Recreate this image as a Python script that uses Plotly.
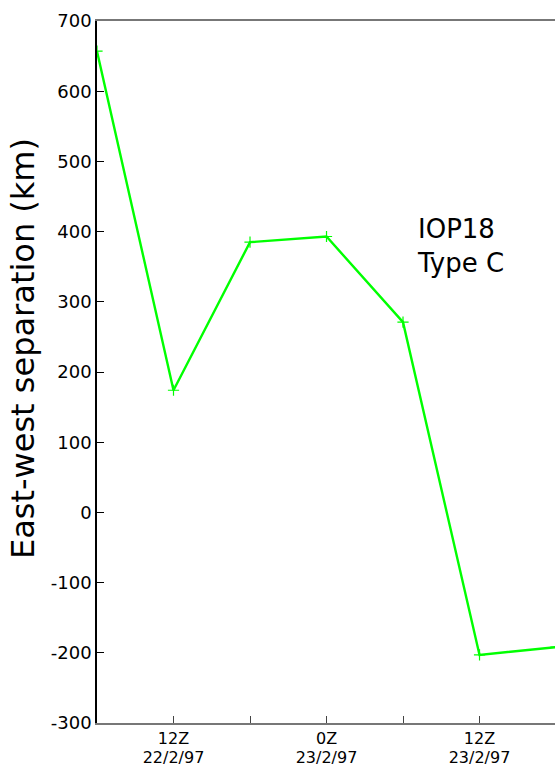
import plotly.graph_objects as go

# Hours since 0Z 22/2/97
hours = [6, 12, 18, 24, 30, 36, 42]
separation_km = [657, 174, 385, 393, 271, -203, -192]

major_tick_hours = [12, 24, 36]
major_tick_times = ["12Z", "0Z", "12Z"]
major_tick_dates = ["22/2/97", "23/2/97", "23/2/97"]
minor_tick_hours = [18, 30]

y_ticks = [-300, -200, -100, 0, 100, 200, 300, 400, 500, 600, 700]
y_tick_labels = [str(v) for v in y_ticks]

FONT = "DejaVu Sans"
X_RANGE = [6, 41.92]

fig = go.Figure()
fig.add_trace(go.Scatter(
    x=hours, y=separation_km,
    mode="lines+markers",
    line=dict(color="#00ff00", width=2.4),
    marker=dict(symbol="cross-thin", size=8, line=dict(color="#00ff00", width=1.2)),
    showlegend=False,
))
# invisible trace to bind the second (date-label) x axis
fig.add_trace(go.Scatter(x=[], y=[], xaxis="x2", yaxis="y", showlegend=False))

fig.update_layout(
    width=555, height=767,
    margin=dict(l=97, r=0, t=21, b=44),
    paper_bgcolor="white", plot_bgcolor="white",
    font=dict(family=FONT, color="black"),
    xaxis=dict(
        range=X_RANGE,
        tickvals=major_tick_hours, ticktext=major_tick_times,
        ticks="inside", ticklen=7, tickwidth=1, tickcolor="#444",
        showline=True, linecolor="#777", linewidth=1.5, mirror=True,
        showgrid=False, zeroline=False,
        ticklabelstandoff=0,
        tickfont=dict(family=FONT, size=16, color="black"),
        minor=dict(tickvals=minor_tick_hours, ticks="inside", ticklen=7, tickcolor="#444", showgrid=False),
    ),
    xaxis2=dict(
        range=X_RANGE, overlaying="x", anchor="y", side="bottom",
        tickvals=major_tick_hours, ticktext=major_tick_dates,
        ticks="", showline=False, showgrid=False, zeroline=False,
        ticklabelstandoff=23,
        tickfont=dict(family=FONT, size=16, color="black"),
    ),
    yaxis=dict(
        range=[-300, 700],
        tickvals=y_ticks, ticktext=y_tick_labels,
        ticks="inside", ticklen=7, tickwidth=1, tickcolor="black",
        showline=True, linecolor="black", linewidth=1.5,
        showgrid=False, zeroline=False,
        tickfont=dict(family=FONT, size=18, color="black"),
    ),
)

fig.add_annotation(
    text="East-west separation (km)", textangle=-90,
    xref="paper", yref="paper",
    x=-(97 - 23) / 458, y=(723 - 349) / 702,
    xanchor="center", yanchor="middle", showarrow=False,
    font=dict(family=FONT, size=32, color="black"),
)

fig.add_annotation(
    text="IOP18<br>Type C", align="left",
    xref="paper", yref="paper",
    x=(415 - 97) / 458, y=(723 - 212) / 702,
    xanchor="left", yanchor="top", showarrow=False,
    font=dict(family=FONT, size=26, color="black"),
)

fig.write_html("out.html")
